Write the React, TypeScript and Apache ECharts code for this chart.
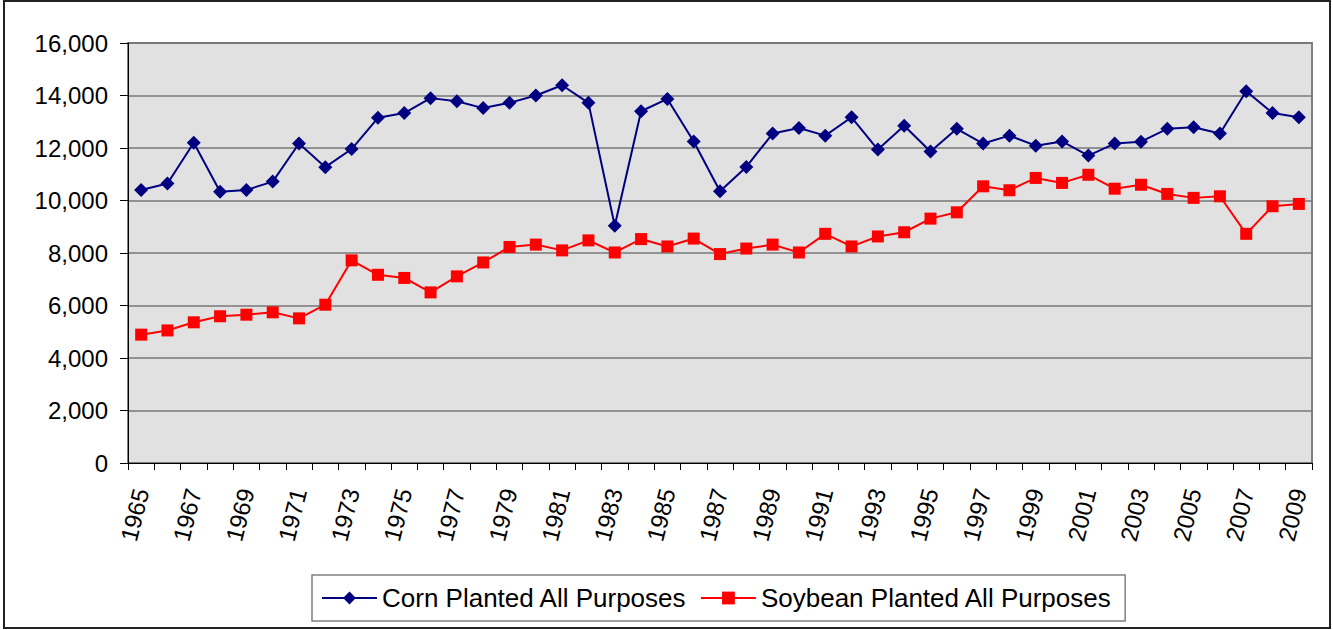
import React, { useEffect, useRef } from "react";
import * as echarts from "echarts";

const FONT = "'Liberation Sans', Arial, sans-serif";

const years = [
  "1965", "1966", "1967", "1968", "1969", "1970", "1971", "1972", "1973", "1974",
  "1975", "1976", "1977", "1978", "1979", "1980", "1981", "1982", "1983", "1984",
  "1985", "1986", "1987", "1988", "1989", "1990", "1991", "1992", "1993", "1994",
  "1995", "1996", "1997", "1998", "1999", "2000", "2001", "2002", "2003", "2004",
  "2005", "2006", "2007", "2008", "2009",
];

const cornPlanted = [
  10400, 10650, 12200, 10330, 10400, 10720, 12170, 11270, 11960, 13150,
  13330, 13900, 13780, 13520, 13720, 14000, 14390, 13720, 9040, 13400,
  13870, 12250, 10350, 11280, 12550, 12760, 12470, 13170, 11940, 12850,
  11870, 12730, 12170, 12470, 12090, 12250, 11710, 12170, 12240, 12730,
  12790, 12550, 14160, 13330, 13170,
];

const soybeanPlanted = [
  4890, 5050, 5360, 5590, 5650, 5740, 5510, 6030, 7720, 7170,
  7050, 6500, 7110, 7640, 8230, 8320, 8100, 8480, 8020, 8530,
  8250, 8550, 7960, 8170, 8320, 8020, 8730, 8250, 8630, 8790,
  9310, 9550, 10540, 10390, 10860, 10670, 10980, 10450, 10600, 10250,
  10100, 10160, 8730, 9780, 9870,
];

const seriesNames = ["Corn Planted All Purposes", "Soybean Planted All Purposes"];

export default function App() {
  const ref = useRef<HTMLDivElement>(null);

  useEffect(() => {
    if (!ref.current) return;
    const chart = echarts.init(ref.current, null, { renderer: "svg" });
    chart.setOption({
      animation: false,
      backgroundColor: "#ffffff",
      textStyle: { fontFamily: FONT },
      graphic: [
        {
          type: "rect",
          silent: true,
          z: 100,
          shape: { x: 4, y: 1, width: 1326, height: 627 },
          style: { fill: "none", stroke: "#222222", lineWidth: 2 },
        },
      ],
      grid: {
        left: 128,
        top: 43,
        right: 21,
        bottom: 167,
        show: true,
        backgroundColor: "#e1e1e1",
        borderColor: "#808080",
        borderWidth: 2,
      },
      legend: {
        left: 312,
        top: 575,
        orient: "horizontal",
        padding: [10, 13, 10, 9],
        itemGap: 13,
        itemWidth: 55,
        itemHeight: 16,
        borderColor: "#808080",
        borderWidth: 1.5,
        backgroundColor: "#ffffff",
        textStyle: { fontSize: 26, color: "#000000", fontFamily: FONT },
        data: seriesNames,
      },
      xAxis: {
        type: "category",
        data: years,
        boundaryGap: true,
        axisLine: { show: true, lineStyle: { color: "#000000", width: 1 } },
        axisTick: { show: true, interval: 0, length: 7, lineStyle: { color: "#000000" } },
        axisLabel: {
          interval: 1,
          rotate: 76,
          margin: 26,
          fontSize: 24,
          color: "#000000",
          fontFamily: FONT,
        },
        splitLine: { show: false },
      },
      yAxis: {
        type: "value",
        min: 0,
        max: 16000,
        interval: 2000,
        axisLine: { show: true, lineStyle: { color: "#000000", width: 1 } },
        axisTick: { show: true, length: 8, lineStyle: { color: "#000000" } },
        axisLabel: {
          margin: 20,
          fontSize: 24,
          color: "#000000",
          fontFamily: FONT,
          formatter: (v: number) => v.toLocaleString("en-US"),
        },
        splitLine: { show: true, lineStyle: { color: "#777777", width: 1.5 } },
      },
      series: [
        {
          name: seriesNames[0],
          type: "line",
          data: cornPlanted,
          symbol: "diamond",
          symbolSize: 14,
          color: "#000080",
          itemStyle: { color: "#000080" },
          lineStyle: { color: "#000080", width: 2 },
        },
        {
          name: seriesNames[1],
          type: "line",
          data: soybeanPlanted,
          symbol: "rect",
          symbolSize: 12,
          color: "#ff0000",
          itemStyle: { color: "#ff0000" },
          lineStyle: { color: "#ff0000", width: 2 },
        },
      ],
    });
    return () => chart.dispose();
  }, []);

  return (
    <div
      ref={ref}
      style={{ position: "absolute", left: 0, top: 0, width: 1333, height: 630 }}
    />
  );
}
